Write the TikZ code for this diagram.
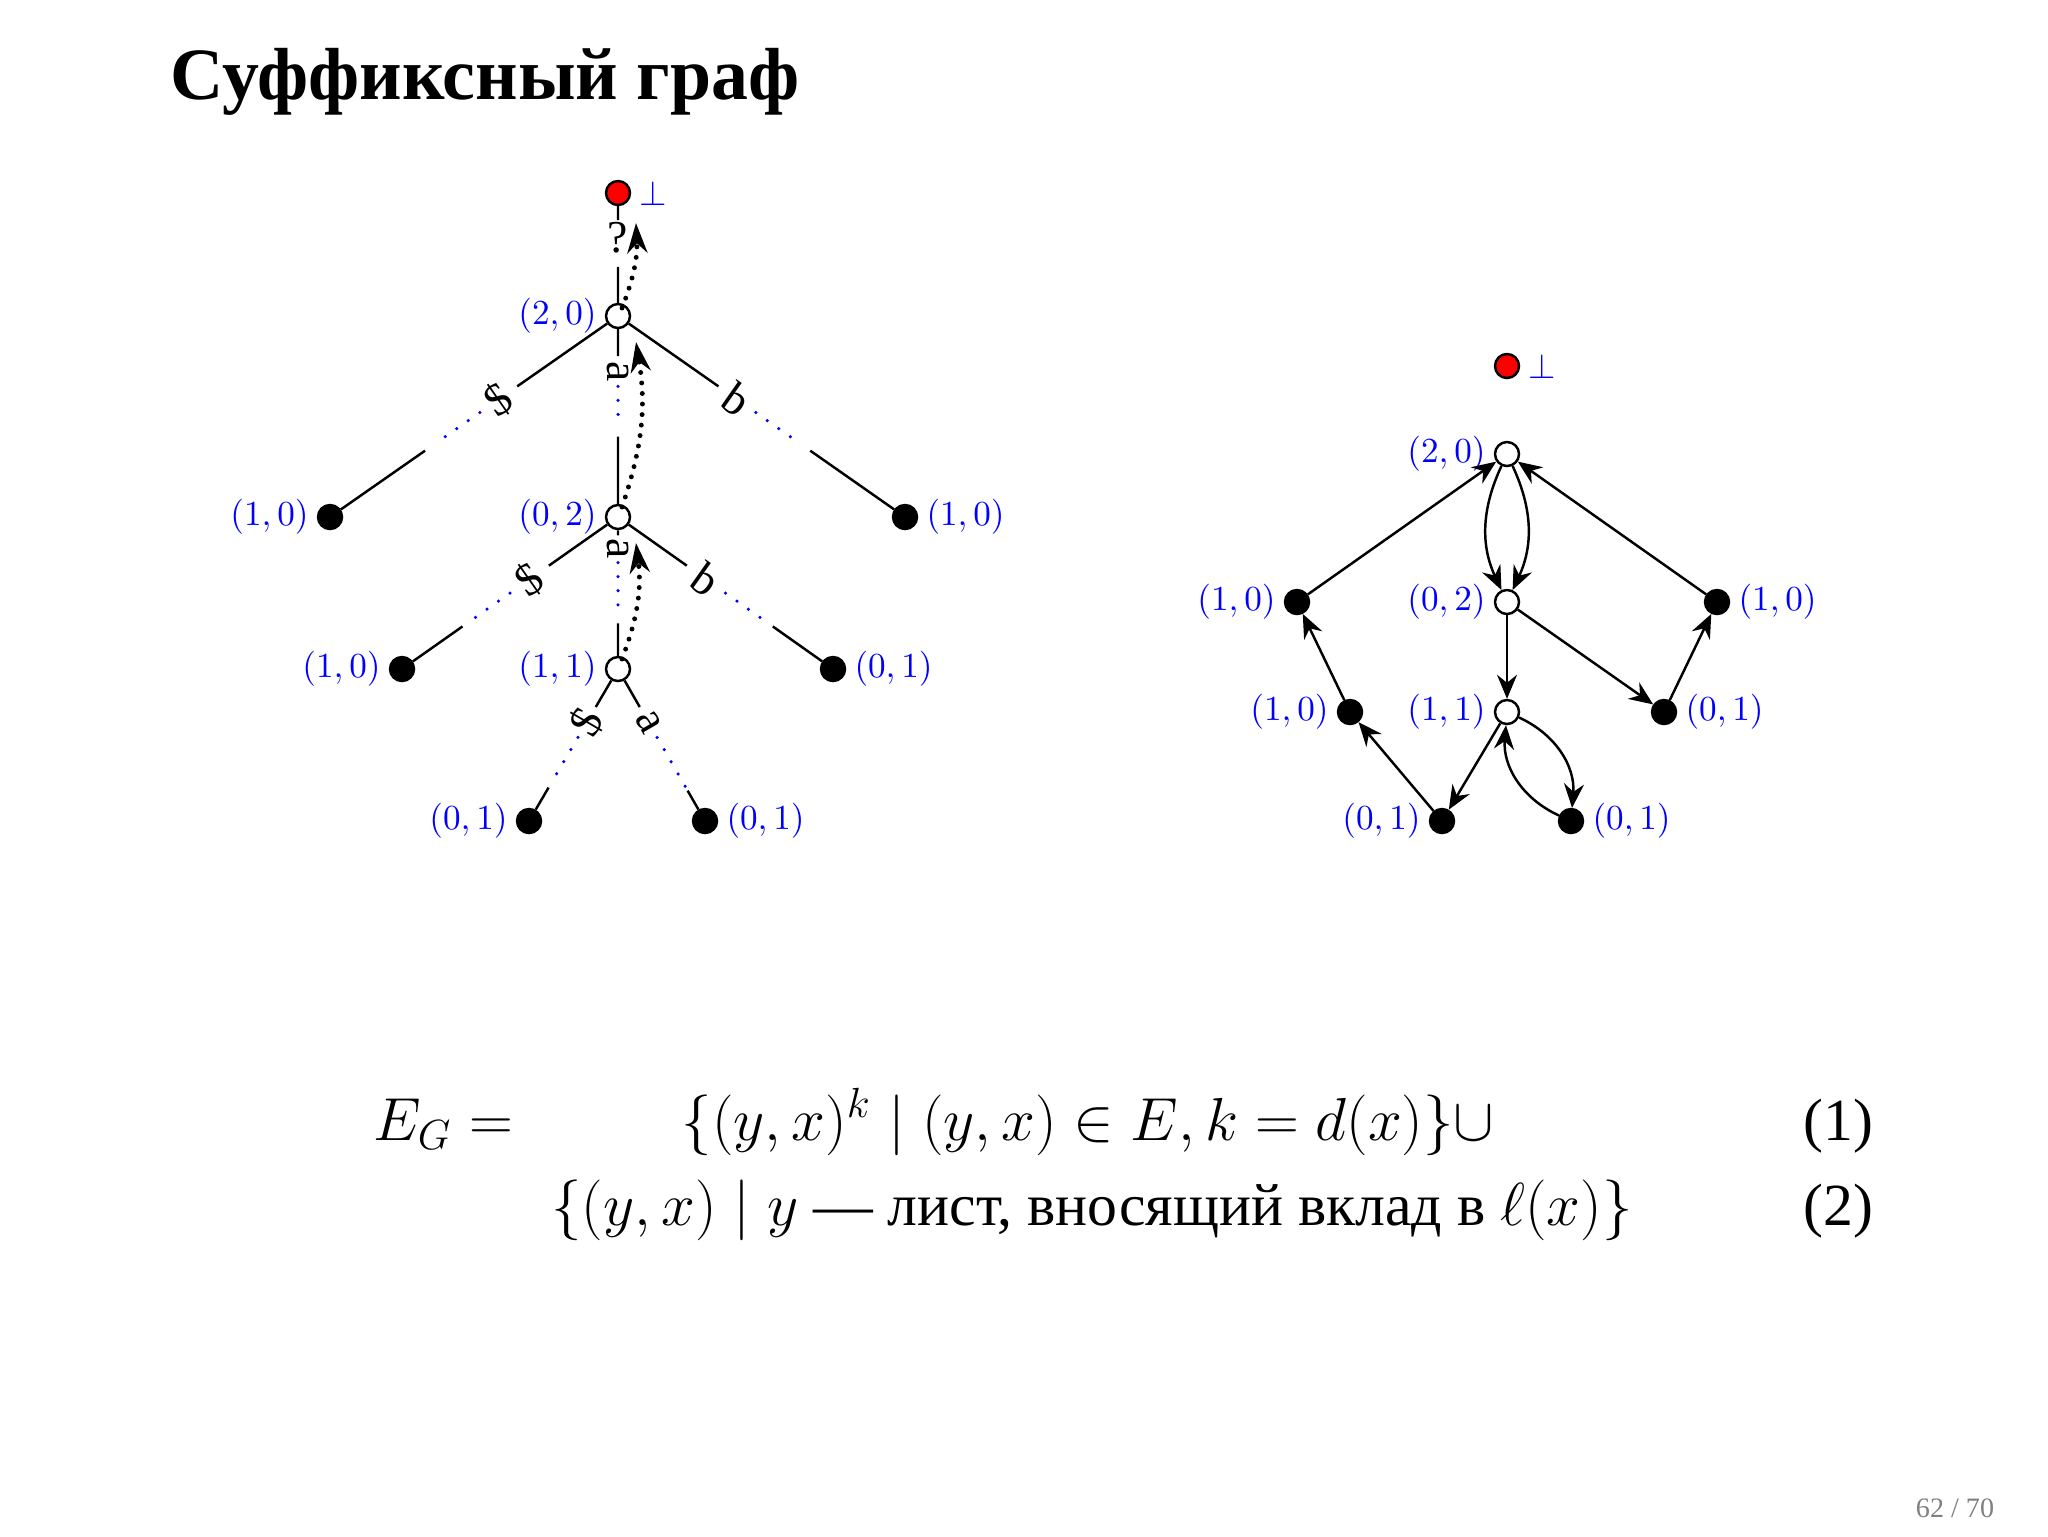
\documentclass[tikz,border=0pt]{standalone}
\usepackage{fontspec}
\setmainfont{Liberation Serif}
\usetikzlibrary{calc,arrows.meta}
\newcommand\tedge[7]{%
  \draw (#1) -- ($(#1)!#4!(#2)$);
  \path ($(#1)!#4!(#2)$) -- ($(#1)!#5!(#2)$) node[midway,sloped,font=\fontsize{13}{13}\selectfont] {#3};
  \draw[bluedot] ($(#1)!#5!(#2)$) -- ($(#1)!#6!(#2)$);
  \draw ($(#1)!#7!(#2)$) -- (#2);}
\tikzset{
  vtx/.style={circle,draw,line width=0.7pt,minimum size=2.4mm,inner sep=0pt},
  leaf/.style={vtx,fill=black},
  inner/.style={vtx,fill=white},
  root/.style={vtx,fill=red},
  lab/.style={text=blue,font=\fontsize{10}{10}\selectfont,inner sep=2pt},
  bluedot/.style={blue,line width=1pt,dash pattern=on 0pt off 4pt,line cap=round},
  back/.style={line width=1.4pt,dash pattern=on 0pt off 3pt,line cap=round,-{Stealth[length=3mm,width=2mm]}},
  arr/.style={line width=0.7pt,-{Stealth[length=2.2mm,width=1.8mm,open]}}
}
\begin{document}
\begin{tikzpicture}[x=0.1mm,y=-0.1mm,line width=0.7pt]
\useasboundingbox (0,0) rectangle (2048,1536);
\node[anchor=west,font=\fontsize{21}{21}\bfseries\selectfont] (title) at (158,82) {Суффиксный граф};
% left tree
\node[root] (r) at (618,193) {};
\node[inner] (a20) at (618,316) {};
\node[inner] (a02) at (618,517) {};
\node[inner] (a11) at (618,669) {};
\node[leaf] (l1) at (330,517) {};
\node[leaf] (l2) at (905,517) {};
\node[leaf] (l3) at (402,669) {};
\node[leaf] (l4) at (833,669) {};
\node[leaf] (l5) at (529,821) {};
\node[leaf] (l6) at (705,821) {};
\node[lab,right] at (r.east) {$\bot$};
\node[lab,left] at (a20.west) {$(2,0)$};
\node[lab,left] at (a02.west) {$(0,2)$};
\node[lab,left] at (a11.west) {$(1,1)$};
\node[lab,left] at (l1.west) {$(1,0)$};
\node[lab,right] at (l2.east) {$(1,0)$};
\node[lab,left] at (l3.west) {$(1,0)$};
\node[lab,right] at (l4.east) {$(0,1)$};
\node[lab,left] at (l5.west) {$(0,1)$};
\node[lab,right] at (l6.east) {$(0,1)$};
\draw (r) -- ($(r)!0.22!(a20)$);
\path ($(r)!0.22!(a20)$) -- ($(r)!0.5!(a20)$) node[midway,font=\fontsize{13}{13}\selectfont] {?};
\draw ($(r)!0.6!(a20)$) -- (a20);
\tedge{a20}{l1}{\$}{0.35}{0.48}{0.62}{0.67}
\tedge{a20}{a02}{a}{0.2}{0.35}{0.55}{0.6}
\tedge{a20}{l2}{b}{0.35}{0.48}{0.62}{0.67}
\tedge{a02}{l3}{\$}{0.32}{0.5}{0.67}{0.72}
\tedge{a02}{a11}{a}{0.12}{0.3}{0.65}{0.7}
\tedge{a02}{l4}{b}{0.32}{0.5}{0.67}{0.72}
\tedge{a11}{l5}{\$}{0.25}{0.45}{0.72}{0.78}
\tedge{a11}{l6}{a}{0.25}{0.45}{0.78}{0.8}
\draw[back] ($(a20)+(4,-8)$) to[bend right=12] ($(r)+(18,30)$);
\draw[back] ($(a02)+(4,-10)$) to[bend right=14] ($(a20)+(18,26)$);
\draw[back] ($(a11)+(4,-10)$) to[bend right=14] ($(a02)+(18,26)$);
% right graph
\node[root] (R) at (1507,366) {};
\node[inner] (b20) at (1507,454) {};
\node[inner] (b02) at (1507,602) {};
\node[inner] (b11) at (1507,712) {};
\node[leaf] (m1) at (1297,602) {};
\node[leaf] (m2) at (1717,602) {};
\node[leaf] (m3) at (1350,712) {};
\node[leaf] (m4) at (1664,712) {};
\node[leaf] (m5) at (1442,821) {};
\node[leaf] (m6) at (1571,821) {};
\node[lab,right] at (R.east) {$\bot$};
\node[lab,left] at (b20.west) {$(2,0)$};
\node[lab,left] at (b02.west) {$(0,2)$};
\node[lab,left] at (b11.west) {$(1,1)$};
\node[lab,left] at (m1.west) {$(1,0)$};
\node[lab,right] at (m2.east) {$(1,0)$};
\node[lab,left] at (m3.west) {$(1,0)$};
\node[lab,right] at (m4.east) {$(0,1)$};
\node[lab,left] at (m5.west) {$(0,1)$};
\node[lab,right] at (m6.east) {$(0,1)$};
\begin{scope}[-{Stealth[length=2.4mm,width=2mm,inset=0.8mm]}]
\draw (m1) -- (b20);
\draw (m2) -- (b20);
\draw (b20) to[bend right=25] (b02);
\draw (b20) to[bend left=25] (b02);
\draw (b02) -- (b11);
\draw (b02) -- (m4);
\draw (m4) -- (m2);
\draw (m3) -- (m1);
\draw (m5) -- (m3);
\draw (b11) -- (m5);
\draw (b11) to[bend left=35] (m6);
\draw (m6) to[bend left=35] (b11);
\end{scope}
% equations
\begin{scope}[every node/.style={font=\fontsize{17}{17}\selectfont}]
\node[anchor=base west] (eg) at (361,1140) {$E_G =$};
\node[anchor=base] (l1eq) at (1088,1140) {$\{(y,x)^k \mid (y,x)\in E, k=d(x)\}\cup$};
\node[anchor=base] (l2eq) at (1092,1225) {$\{(y,x)\mid y$ --- лист, вносящий вклад в $\ell(x)\}$};
\node[anchor=base east] (n1) at (1886,1140) {(1)};
\node[anchor=base east] (n2) at (1886,1225) {(2)};
\end{scope}
\node[text=gray,font=\fontsize{8}{8}\selectfont] (pg) at (1955,1508) {62 / 70};
\end{tikzpicture}
\end{document}
